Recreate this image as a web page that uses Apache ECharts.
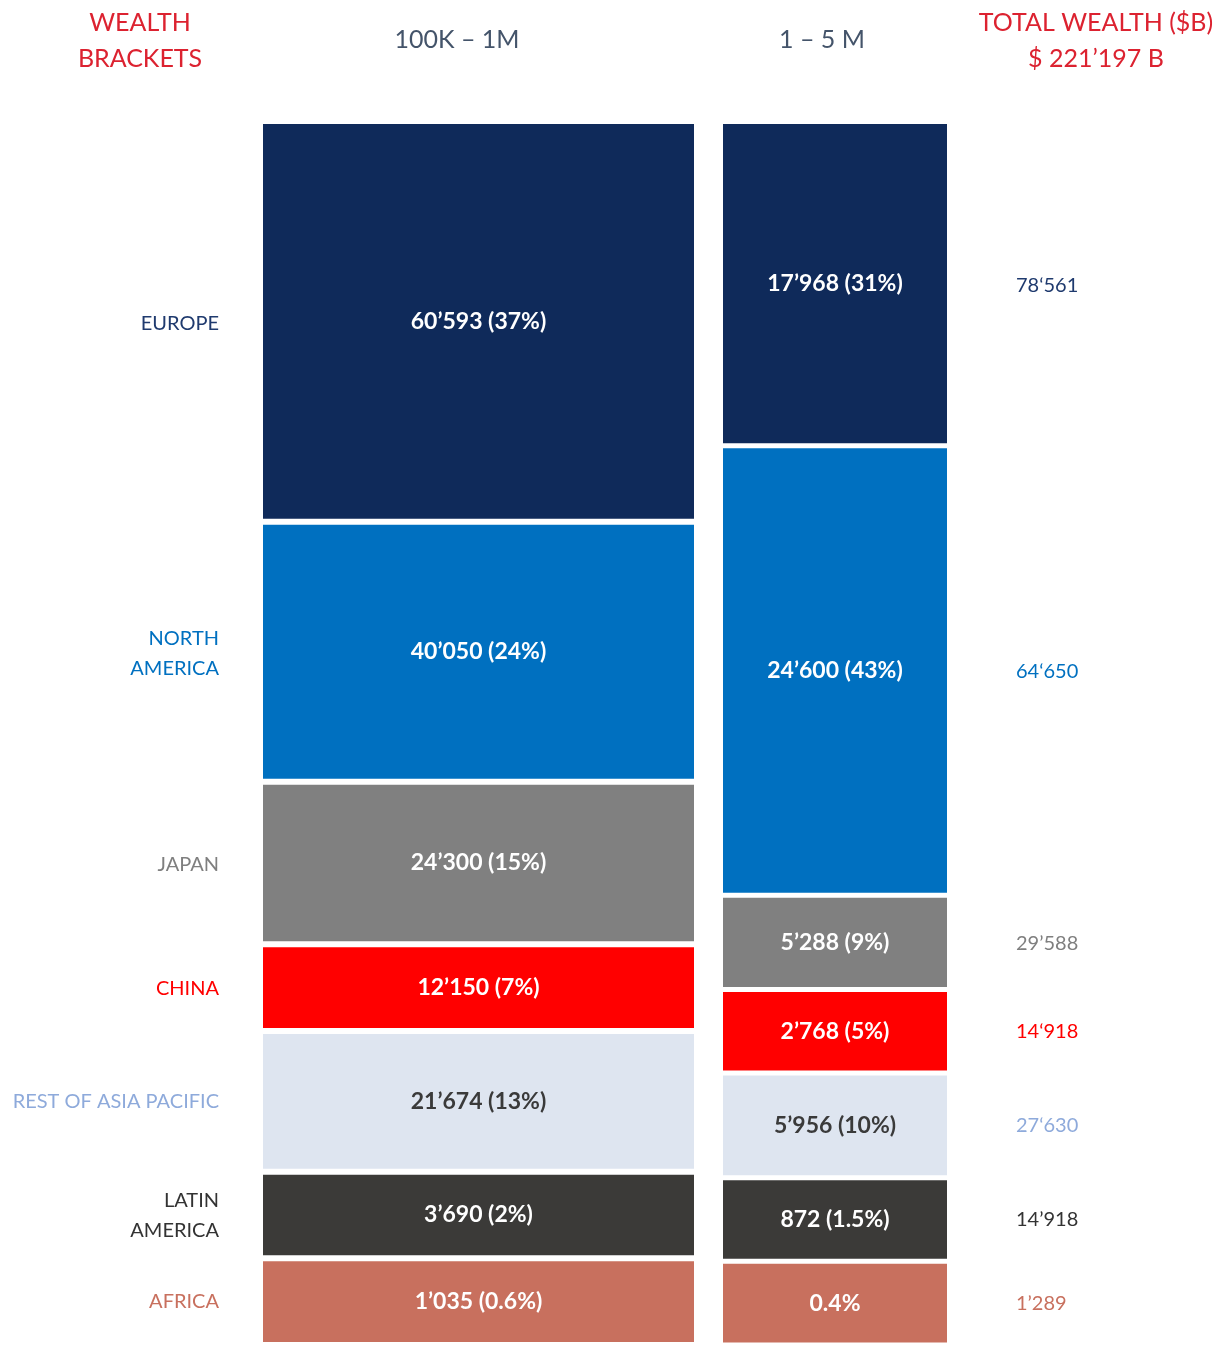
<!DOCTYPE html>
<html>
<head>
<meta charset="utf-8">
<script src="https://cdn.jsdelivr.net/npm/echarts@6/dist/echarts.min.js"></script>
<style>
  html, body { margin: 0; padding: 0; background: #fff; }
  #chart { width: 1225px; height: 1345px; }
</style>
</head>
<body>
<div id="chart"></div>
<script>
  // data ($B and share of bracket)
  const regions = ['EUROPE', 'NORTH\nAMERICA', 'JAPAN', 'CHINA', 'REST OF ASIA PACIFIC', 'LATIN\nAMERICA', 'AFRICA']
  const brackets = ['100K – 1M', '1 – 5 M']
  const wealthLow = [60593, 40050, 24300, 12150, 21674, 3690, 1035]
  const shareLow = [37, 24, 15, 7, 13, 2, 0.6]
  const wealthHigh = [17968, 24600, 5288, 2768, 5956, 872, null]
  const shareHigh = [31, 43, 9, 5, 10, 1.5, 0.4]
  const totalLabels = ['78‘561', '64‘650', '29’588', '14‘918', '27‘630', '14’918', '1’289']
  const grandTotal = '$ 221’197 B'

  const fillColors = ['#0f2a5a', '#0070c0', '#808080', '#ff0000', '#dee5f0', '#3b3a38', '#c8705e']
  const textColors = ['#1f3a6e', '#0070c0', '#7f7f7f', '#ff0000', '#8eaadb', '#333333', '#c8705e']
  const inkOnFill = ['#fff', '#fff', '#fff', '#fff', '#3a3a3a', '#fff', '#fff']
  const MIN_SHARE = 8   // small slices get a floor so their labels fit
  const FONT = 'Lato, "Noto Sans", sans-serif'

  function fmt(n) {
    return String(n).replace(/\B(?=(\d{3})+(?!\d))/g, '’')
  }
  function shown(shares) {
    return shares.map(s => Math.max(s, MIN_SHARE))
  }
  const dispLow = shown(shareLow)
  const dispHigh = shown(shareHigh)
  const sum = a => a.reduce((x, y) => x + y, 0)

  const grids = [
    {left: 0, top: 124, width: 219, height: 1221},
    {left: 260, top: 121, width: 437, height: 1227},
    {left: 720.5, top: 121.5, width: 229, height: 1226},
    {left: 1016, top: 124, width: 190, height: 1221}
  ]
  const stacks = [dispLow, dispLow, dispHigh, dispHigh]

  let series = []
  stacks.forEach(function (disp, g) {
    regions.forEach(function (name, i) {
      let item = {value: disp[i]}
      let s = {
        type: 'bar',
        xAxisIndex: g,
        yAxisIndex: g,
        stack: 'col' + g,
        barWidth: '100%',
        silent: true,
        data: [item]
      }
      if (g === 0 || g === 3) {
        s.itemStyle = {color: 'rgba(0,0,0,0)'}
        s.label = {
          show: true,
          position: g === 0 ? 'insideRight' : 'insideLeft',
          distance: 0,
          align: g === 0 ? 'right' : 'left',
          formatter: g === 0 ? name : totalLabels[i],
          color: textColors[i],
          fontFamily: FONT,
          fontSize: 20,
          lineHeight: 30
        }
      } else {
        let w = g === 1 ? wealthLow[i] : wealthHigh[i]
        let p = g === 1 ? shareLow[i] : shareHigh[i]
        // stroke is drawn inside the bar, so half the white gap per side
        s.itemStyle = {color: fillColors[i], borderColor: '#fff', borderWidth: g === 1 ? 3 : 2.5}
        s.label = {
          show: true,
          position: 'inside',
          formatter: w == null ? p + '%' : fmt(w) + ' (' + p + '%)',
          color: inkOnFill[i],
          fontFamily: FONT,
          fontWeight: 'bold',
          fontSize: 23
        }
      }
      series.push(s)
    })
  })

  let chart = echarts.init(document.getElementById('chart'))
  chart.setOption({
    animation: false,
    backgroundColor: '#fff',
    grid: grids,
    xAxis: grids.map((_, g) => ({type: 'category', gridIndex: g, data: ['x'], show: false})),
    yAxis: stacks.map((disp, g) => ({type: 'value', gridIndex: g, inverse: true, min: 0, max: sum(disp), show: false})),
    graphic: [
      {type: 'text', x: 140, y: 5, style: {text: 'WEALTH\nBRACKETS', textAlign: 'center', fill: '#dc2230', font: '25px ' + FONT, lineHeight: 36}},
      {type: 'text', x: 457, y: 27, style: {text: brackets[0], textAlign: 'center', fill: '#44546a', font: '25px ' + FONT}},
      {type: 'text', x: 822, y: 27, style: {text: brackets[1], textAlign: 'center', fill: '#44546a', font: '25px ' + FONT}},
      {type: 'text', x: 1096, y: 5, style: {text: 'TOTAL WEALTH ($B)\n' + grandTotal, textAlign: 'center', fill: '#dc2230', font: '25px ' + FONT, lineHeight: 36}}
    ],
    series: series
  })
</script>
</body>
</html>
